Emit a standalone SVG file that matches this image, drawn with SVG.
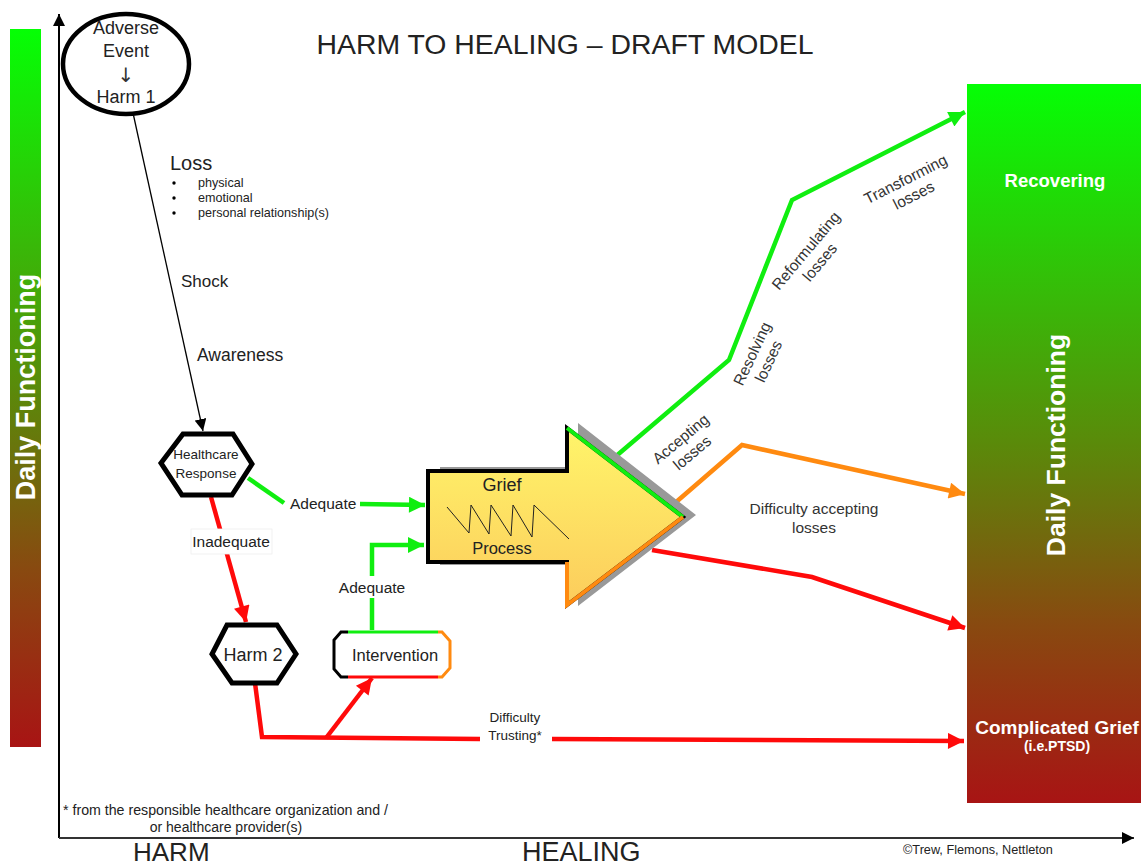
<svg xmlns="http://www.w3.org/2000/svg" width="1141" height="865" viewBox="0 0 1141 865">
<defs>
<linearGradient id="df" x1="0" y1="0" x2="0" y2="1">
<stop offset="0" stop-color="#05ff05"/>
<stop offset="0.5" stop-color="#5a8a0a"/>
<stop offset="0.75" stop-color="#884a10"/>
<stop offset="1" stop-color="#a81414"/>
</linearGradient>
<linearGradient id="yel" x1="0" y1="0" x2="0" y2="1">
<stop offset="0" stop-color="#fff56a"/>
<stop offset="1" stop-color="#fccc5c"/>
</linearGradient>
<marker id="ak" markerUnits="userSpaceOnUse" markerWidth="12" markerHeight="12" refX="10" refY="5" orient="auto" viewBox="0 0 10 10"><path d="M0,0 L10,5 L0,10 z" fill="#000"/></marker>
<marker id="ag" markerUnits="userSpaceOnUse" markerWidth="18" markerHeight="16" refX="10" refY="5" orient="auto" viewBox="0 0 10 10"><path d="M0,0 L10,5 L0,10 z" fill="#10ee10"/></marker>
<marker id="ar" markerUnits="userSpaceOnUse" markerWidth="18" markerHeight="16" refX="10" refY="5" orient="auto" viewBox="0 0 10 10"><path d="M0,0 L10,5 L0,10 z" fill="#ff0a0a"/></marker>
<marker id="ao" markerUnits="userSpaceOnUse" markerWidth="18" markerHeight="16" refX="10" refY="5" orient="auto" viewBox="0 0 10 10"><path d="M0,0 L10,5 L0,10 z" fill="#ff8a10"/></marker>
<style>
text{font-family:"Liberation Sans",Arial,sans-serif;fill:#222}
.w{fill:#fff;font-weight:bold}
.g{stroke:#10ee10;stroke-width:4.5;fill:none}
.r{stroke:#ff0a0a;stroke-width:4.5;fill:none}
.o{stroke:#ff8a10;stroke-width:4.5;fill:none}
.lbl{font-size:15.5px;fill:#333}
.hex{fill:#fff;stroke:#000;stroke-width:5;stroke-linejoin:miter}
</style>
</defs>
<rect width="1141" height="865" fill="#fff"/>

<g id="left-bar">
<rect x="10" y="29" width="31" height="718" fill="url(#df)"/>
<text class="w" transform="translate(35,387) rotate(-90)" text-anchor="middle" font-size="27">Daily Functioning</text>
</g>

<g id="axes">
<line x1="59" y1="838" x2="59" y2="14" stroke="#000" stroke-width="2" marker-end="url(#ak)"/>
<line x1="59" y1="838" x2="1134" y2="838" stroke="#333" stroke-width="2" marker-end="url(#ak)"/>
<text x="133" y="861" font-size="26" fill="#000">HARM</text>
<text x="522" y="861" font-size="27" fill="#000">HEALING</text>
</g>

<text x="565" y="54" font-size="28.4" text-anchor="middle" fill="#000">HARM TO HEALING – DRAFT MODEL</text>

<g id="right-bar">
<rect x="967" y="84" width="174" height="719" fill="url(#df)"/>
<text class="w" x="1055" y="187" text-anchor="middle" font-size="18.5">Recovering</text>
<text class="w" transform="translate(1065,445) rotate(-90)" text-anchor="middle" font-size="26.5">Daily Functioning</text>
<text class="w" x="1057" y="734" text-anchor="middle" font-size="19">Complicated Grief</text>
<text class="w" x="1057" y="751" text-anchor="middle" font-size="14">(i.e.PTSD)</text>
</g>

<g id="connectors">
<line x1="133" y1="113" x2="203" y2="431" stroke="#000" stroke-width="1.3" marker-end="url(#ak)"/>
<polyline class="g" points="248,478 284,503"/>
<line class="g" x1="360" y1="504" x2="425" y2="505" marker-end="url(#ag)"/>
<polyline class="r" points="211,497 246,622" marker-end="url(#ar)"/>
<polyline class="g" points="372,630 372,545 424,545" marker-end="url(#ag)"/>
<polyline class="r" points="255,683 262,737 480,739"/>
<line class="r" x1="552" y1="739" x2="964" y2="741" marker-end="url(#ar)"/>
<line class="r" x1="326" y1="738" x2="372" y2="678" marker-end="url(#ar)"/>
<polyline class="g" points="615,457 729,360 792,200 965,112" marker-end="url(#ag)"/>
<polyline class="o" points="675,503 742,445 965,494" marker-end="url(#ao)"/>
<polyline class="r" points="652,550 812,577 965,628" marker-end="url(#ar)"/>
</g>

<g id="adverse-event">
<ellipse cx="126" cy="64" rx="63" ry="50" fill="#fff" stroke="#000" stroke-width="4.5"/>
<text x="126" y="34" text-anchor="middle" font-size="18" fill="#333">Adverse</text>
<text x="126" y="57" text-anchor="middle" font-size="18" fill="#333">Event</text>
<text x="126" y="82" text-anchor="middle" font-size="20" style="font-family:'DejaVu Sans',sans-serif;fill:#333">↓</text>
<text x="126" y="103" text-anchor="middle" font-size="18" fill="#333">Harm 1</text>
</g>

<g id="loss">
<text x="170" y="170" font-size="20">Loss</text>
<circle cx="174" cy="183" r="1.7" fill="#000"/>
<circle cx="174" cy="198" r="1.7" fill="#000"/>
<circle cx="174" cy="213" r="1.7" fill="#000"/>
<text x="198" y="187" font-size="12.6" fill="#333">physical</text>
<text x="198" y="202" font-size="12.6" fill="#333">emotional</text>
<text x="198" y="217" font-size="12.6" fill="#333">personal relationship(s)</text>
</g>
<text x="181" y="287" font-size="17">Shock</text>
<text x="197" y="361" font-size="17.5">Awareness</text>

<g id="healthcare-response">
<polygon class="hex" points="183,434 233,434 252,464 232,495 182,495 161,463"/>
<text x="206" y="459" text-anchor="middle" font-size="13.5" fill="#333">Healthcare</text>
<text x="206" y="478" text-anchor="middle" font-size="13.5" fill="#333">Response</text>
</g>

<text x="290" y="509" font-size="15.5" fill="#10dd10">Adequate</text>
<rect x="191" y="529" width="81" height="25" fill="#fff" stroke="#eee" stroke-width="0.8"/>
<text x="231" y="547" text-anchor="middle" font-size="15.5" fill="#ee1111">Inadequate</text>
<rect x="335" y="576" width="74" height="22" fill="#fff"/>
<text x="372" y="593" text-anchor="middle" font-size="15.5" fill="#10dd10">Adequate</text>

<g id="harm-2">
<polygon class="hex" points="227,625 277,625 296,654 277,683 232,683 212,654"/>
<text x="253" y="661" text-anchor="middle" font-size="18" fill="#222">Harm 2</text>
</g>

<g id="intervention">
<path d="M341,632 L441,632 L450,641 L450,668 L441,677 L341,677 L334,669 L334,640 Z" fill="#fff"/>
<path d="M348,677 L341,677 L334,669 L334,640 L341,632 L348,632" fill="none" stroke="#000" stroke-width="3"/>
<line x1="348" y1="632" x2="438" y2="632" stroke="#10ee10" stroke-width="3"/>
<line x1="348" y1="677" x2="438" y2="677" stroke="#ff0a0a" stroke-width="3"/>
<path d="M438,632 L442,632 L450,641 L450,668 L442,677 L438,677" fill="none" stroke="#ff8a10" stroke-width="3"/>
<text x="395" y="661" text-anchor="middle" font-size="16.5">Intervention</text>
</g>

<g id="difficulty-trusting">
<text x="515" y="722" text-anchor="middle" font-size="13.5">Difficulty</text>
<text x="515" y="740" text-anchor="middle" font-size="13.5">Trusting*</text>
</g>

<g id="grief-process">
<polygon points="440,467 578,467 578,423 696,515 578,606 578,565 440,565" fill="#999"/>
<polygon points="428,471 567,471 567,428 683,517 567,605 567,562 428,562" fill="url(#yel)" stroke="#000" stroke-width="4" stroke-linejoin="miter"/>
<line x1="567" y1="428" x2="683" y2="517" stroke="#10ee10" stroke-width="4"/>
<polyline points="683,517 567,605 567,562" fill="none" stroke="#ff8a10" stroke-width="4"/>
<polyline points="447,507 469,533 471,505 489,534 491,505 511,536 513,505 532,537 534,505 569,539" fill="none" stroke="#222" stroke-width="1"/>
<text x="502" y="491" text-anchor="middle" font-size="18">Grief</text>
<text x="502" y="554" text-anchor="middle" font-size="16.5">Process</text>
</g>

<g id="stage-labels">
<text class="lbl" transform="translate(684,443) rotate(-40)" text-anchor="middle"><tspan x="0" y="0">Accepting</tspan><tspan x="0" y="18">losses</tspan></text>
<text class="lbl" transform="translate(757,356) rotate(-65)" text-anchor="middle"><tspan x="0" y="0">Resolving</tspan><tspan x="0" y="18">losses</tspan></text>
<text class="lbl" transform="translate(810,254) rotate(-50)" text-anchor="middle"><tspan x="0" y="0">Reformulating</tspan><tspan x="0" y="18">losses</tspan></text>
<text class="lbl" transform="translate(908,184) rotate(-27)" text-anchor="middle"><tspan x="0" y="0">Transforming</tspan><tspan x="0" y="18">losses</tspan></text>
<text class="lbl" x="814" y="514" text-anchor="middle">Difficulty accepting</text>
<text class="lbl" x="814" y="533" text-anchor="middle">losses</text>
</g>

<g id="footnote">
<text x="63" y="815" font-size="14.2" fill="#444">*  from the responsible healthcare organization and /</text>
<text x="226" y="832" text-anchor="middle" font-size="14" fill="#444">or healthcare provider(s)</text>
</g>
<text x="903" y="854" font-size="12.7" fill="#333">©Trew, Flemons, Nettleton</text>
</svg>
